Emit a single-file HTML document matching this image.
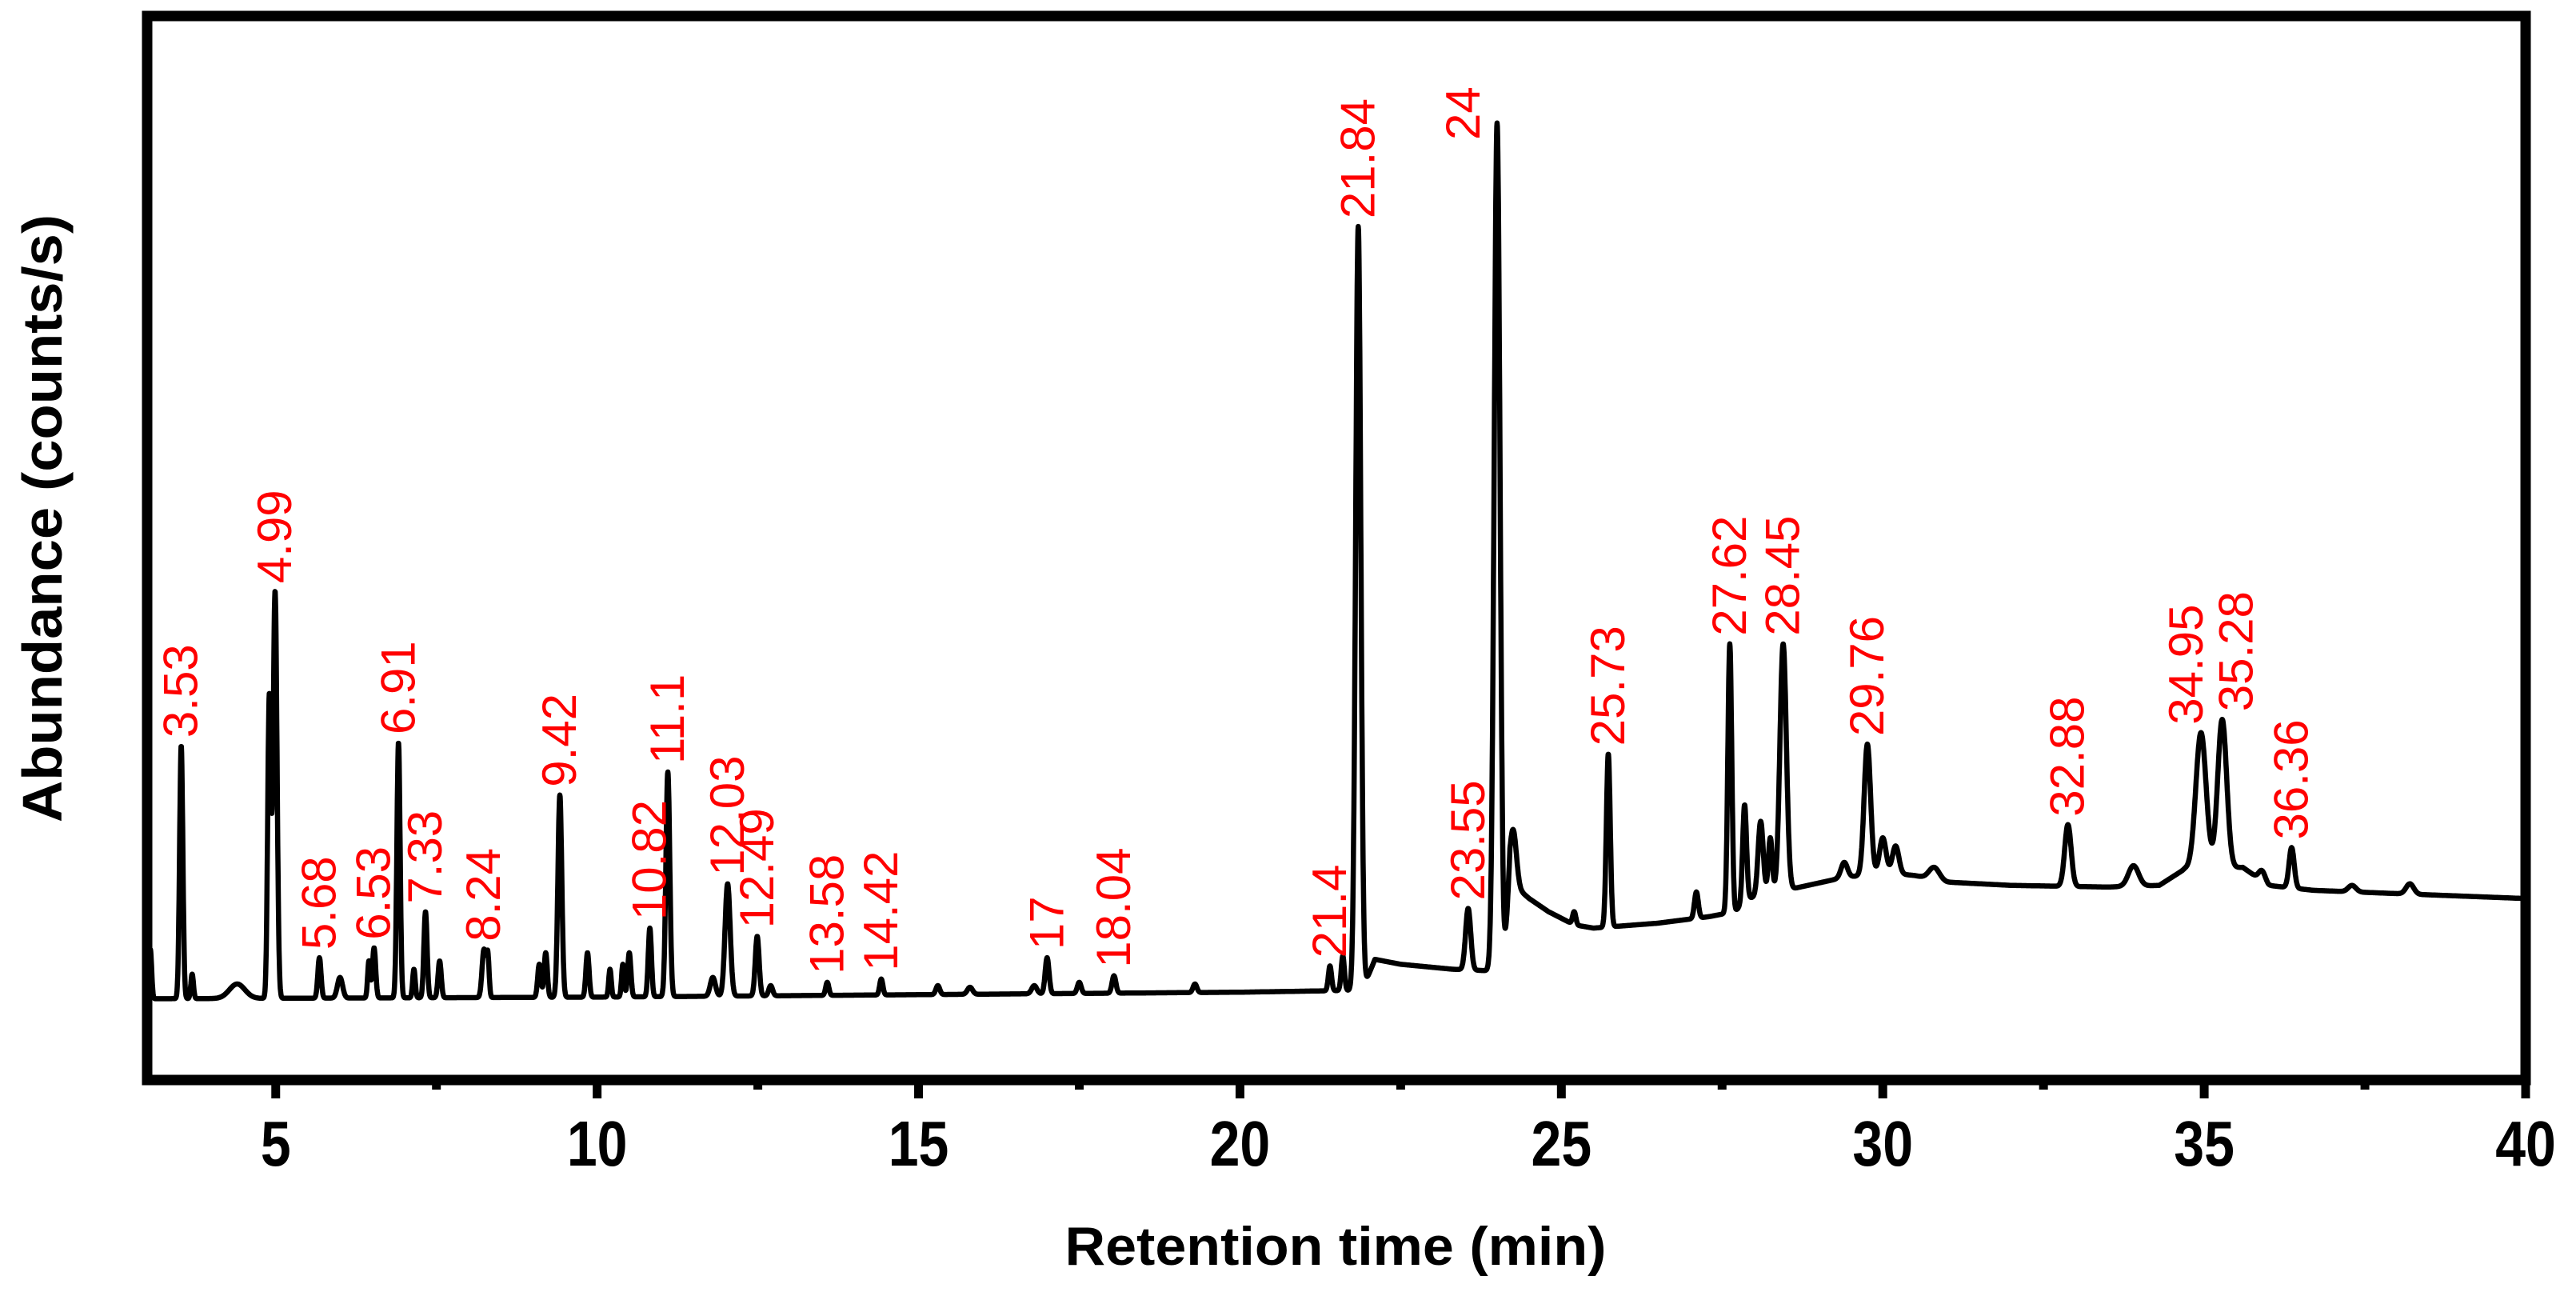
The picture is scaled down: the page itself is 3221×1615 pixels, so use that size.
<!DOCTYPE html>
<html><head><meta charset="utf-8"><style>
html,body{margin:0;padding:0;background:#fff;}
svg{display:block;}
</style></head><body>
<svg id="chart" width="3221" height="1615" viewBox="0 0 3221 1615" xmlns="http://www.w3.org/2000/svg">
<rect x="0" y="0" width="3221" height="1615" fill="#fff"/>
<g id="plot"></g>
<g id="labels"></g>
<rect x="184" y="20" width="2974" height="1330" fill="none" stroke="#000" stroke-width="13"/>
<g id="xaxis"></g>
<text x="1670" y="1581" text-anchor="middle" font-family="Liberation Sans, sans-serif" font-weight="bold" font-size="68" textLength="677" lengthAdjust="spacingAndGlyphs">Retention time (min)</text>
<text transform="translate(77,648) rotate(-90)" text-anchor="middle" font-family="Liberation Sans, sans-serif" font-weight="bold" font-size="70" textLength="760" lengthAdjust="spacingAndGlyphs">Abundance (counts/s)</text>
</svg>
<script>
// ---- data ----
const baseTimes = [3, 10, 20, 21.6, 21.9, 22.1, 22.5, 23.3, 23.9, 24.1, 24.2, 24.5, 24.8, 25.2, 25.5, 26.5, 27.3, 27.7, 27.9, 28.6, 29.3, 30.0, 30.5, 31.0, 32.0, 33.5, 34.3, 34.7, 35.6, 36.0, 36.7, 38.0, 40];
const baseValues = [47, 48, 51, 52, 52, 71, 68, 65, 64, 64, 118, 108, 100, 92, 90, 93, 97, 100, 108, 114, 120, 124, 122, 118, 116, 115, 116, 126, 127, 116, 113, 111, 108];
const peakTimes = [3.05, 3.53, 3.7, 4.4, 4.9, 4.99, 5.68, 6.0, 6.45, 6.53, 6.91, 7.15, 7.33, 7.55, 8.24, 8.3, 9.1, 9.2, 9.42, 9.85, 10.2, 10.4, 10.5, 10.82, 11.1, 11.8, 12.03, 12.49, 12.7, 13.58, 14.42, 15.3, 15.8, 16.8, 17.0, 17.5, 18.04, 19.3, 21.4, 21.6, 21.84, 23.55, 24.0, 24.25, 25.2, 25.73, 27.1, 27.62, 27.85, 28.1, 28.25, 28.45, 29.4, 29.76, 30.0, 30.2, 30.8, 32.88, 33.9, 34.95, 35.28, 35.9, 36.36, 37.3, 38.2];
const peakApex = [77, 201, 62, 56, 230, 295, 72, 60, 70, 78, 203, 65, 100, 70, 77, 72, 68, 75, 171, 75, 65, 68, 75, 90, 185, 60, 117, 85, 55, 57, 59, 55, 54, 55, 72, 57, 61, 56, 67, 73, 517, 102, 580, 150, 100, 196, 112, 263, 165, 155, 145, 263, 130, 202, 145, 140, 127, 153, 128, 209, 217, 125, 139, 116, 117];
const peakWidths = [0.02, 0.025, 0.02, 0.12, 0.025, 0.03, 0.025, 0.04, 0.02, 0.025, 0.025, 0.02, 0.025, 0.025, 0.03, 0.02, 0.025, 0.025, 0.03, 0.025, 0.02, 0.02, 0.025, 0.025, 0.03, 0.04, 0.04, 0.03, 0.03, 0.025, 0.025, 0.03, 0.04, 0.04, 0.03, 0.03, 0.03, 0.03, 0.025, 0.025, 0.04, 0.04, 0.045, 0.05, 0.025, 0.03, 0.03, 0.03, 0.03, 0.04, 0.03, 0.05, 0.05, 0.05, 0.05, 0.05, 0.08, 0.05, 0.08, 0.08, 0.07, 0.05, 0.04, 0.06, 0.06];
const labelTexts = ["3.53","4.99","5.68","6.53","6.91","7.33","8.24","9.42","10.82","11.1","12.03","12.49","13.58","14.42","17","18.04","21.4","21.84","23.55","24","25.73","27.62","28.45","29.76","32.88","34.95","35.28","36.36"];
const labelTimes = [3.53,4.99,5.68,6.53,6.91,7.33,8.24,9.42,10.82,11.1,12.03,12.49,13.58,14.42,17,18.04,21.4,21.84,23.55,24,25.73,27.62,28.45,29.76,32.88,34.95,35.28,36.36];
const labelValues = [201,295,72,78,203,100,77,171,90,185,117,85,57,59,72,61,67,517,102,580,196,263,263,202,153,209,217,139];
const xTicks = [5,10,15,20,25,30,35,40];
const xMinor = [7.5,12.5,17.5,22.5,27.5,32.5,37.5];

// ---- scales ----
const X = t => 184 + (t - 3) * (3158 - 184) / 37;
const Y = v => 1345 - v * 2.054;
const NS = "http://www.w3.org/2000/svg";
function base(t){
  for(let i=0;i<baseTimes.length-1;i++){
    if(t<=baseTimes[i+1]){const f=(t-baseTimes[i])/(baseTimes[i+1]-baseTimes[i]);return baseValues[i]+f*(baseValues[i+1]-baseValues[i]);}
  }
  return baseValues[baseValues.length-1];
}
const amps = peakTimes.map((t,i)=>peakApex[i]-base(t));
function signal(t){
  let v=base(t);
  for(let i=0;i<peakTimes.length;i++){const d=(t-peakTimes[i])/peakWidths[i];if(Math.abs(d)<6)v+=amps[i]*Math.exp(-0.5*d*d);}
  return v;
}
let d="";
for(let t=3.02;t<=40.0001;t+=0.004){d+=(d?"L":"M")+X(t).toFixed(1)+","+Y(signal(t)).toFixed(1);}
const path=document.createElementNS(NS,"path");
path.setAttribute("d",d);path.setAttribute("fill","none");path.setAttribute("stroke","#000");
path.setAttribute("stroke-width","6.5");path.setAttribute("stroke-linejoin","round");


document.getElementById("plot").appendChild(path);

// labels
const lg=document.getElementById("labels");
labelTexts.forEach((s,i)=>{
  const tx=document.createElementNS(NS,"text");
  let x=X(labelTimes[i])+20, y=Y(labelValues[i])-10;
  if(s==="24"){x-=42;y=175;}
  if(s==="34.95"){x-=18;}
  if(s==="35.28"){x+=18;}
  tx.setAttribute("transform","translate("+x.toFixed(1)+","+y.toFixed(1)+") rotate(-90)");
  tx.setAttribute("font-family","Liberation Sans, sans-serif");
  tx.setAttribute("font-size","60");tx.setAttribute("fill","#ff0000");
  tx.textContent=s;
  
  
  lg.appendChild(tx);
});

// x axis ticks
const xg=document.getElementById("xaxis");
xTicks.forEach(v=>{
  const l=document.createElementNS(NS,"line");
  l.setAttribute("x1",X(v));l.setAttribute("x2",X(v));l.setAttribute("y1",1350);l.setAttribute("y2",1373);
  l.setAttribute("stroke","#000");l.setAttribute("stroke-width","11");
  
  
  xg.appendChild(l);
  const tx=document.createElementNS(NS,"text");
  tx.setAttribute("transform","translate("+X(v)+",1457) scale(0.85,1)");
  tx.setAttribute("text-anchor","middle");tx.setAttribute("font-family","Liberation Sans, sans-serif");
  tx.setAttribute("font-weight","bold");tx.setAttribute("font-size","80");
  tx.textContent=String(v);
  
  
  xg.appendChild(tx);
});
xMinor.forEach(v=>{
  const l=document.createElementNS(NS,"line");
  l.setAttribute("x1",X(v));l.setAttribute("x2",X(v));l.setAttribute("y1",1350);l.setAttribute("y2",1362);
  l.setAttribute("stroke","#000");l.setAttribute("stroke-width","11");
  
  
  xg.appendChild(l);
});
</script>
</body></html>
